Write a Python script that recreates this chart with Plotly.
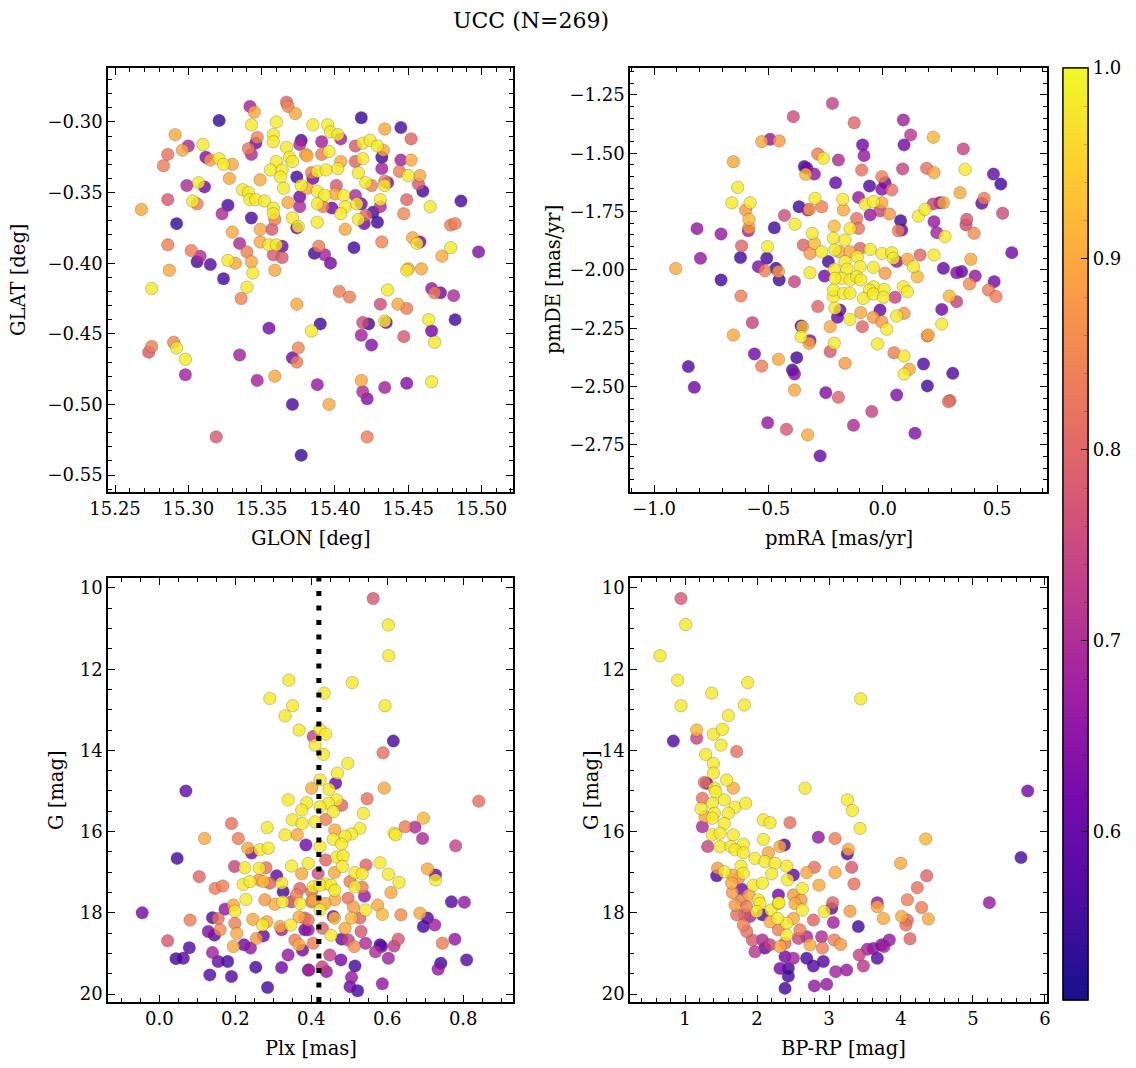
import numpy as np
import plotly.graph_objects as go

W, H = 1136, 1068
FONT = "DejaVu Serif"

# ---------------- data ----------------
# Panel 1: GLON / GLAT
glon = [15.342, 15.345, 15.367, 15.368, 15.373, 15.321, 15.343, 15.360, 15.291, 15.358,
        15.377, 15.376, 15.300, 15.296, 15.310, 15.286, 15.283, 15.347, 15.346, 15.341,
        15.343, 15.312, 15.315, 15.321, 15.324, 15.330, 15.367, 15.358, 15.369, 15.371,
        15.380, 15.360, 15.356, 15.364, 15.328, 15.349, 15.363, 15.374, 15.384, 15.299,
        15.307, 15.311, 15.337, 15.341, 15.286, 15.303, 15.306, 15.268, 15.327, 15.323,
        15.342, 15.346, 15.352, 15.358, 15.358, 15.365, 15.377, 15.376, 15.376, 15.368,
        15.371, 15.375, 15.374, 15.292, 15.343, 15.359, 15.330, 15.349, 15.357, 15.335,
        15.349, 15.355, 15.360, 15.364, 15.286, 15.302, 15.308, 15.306, 15.315, 15.327,
        15.332, 15.340, 15.343, 15.344, 15.358, 15.364, 15.287, 15.324, 15.359, 15.275,
        15.340, 15.336, 15.374, 15.355, 15.384, 15.275, 15.273, 15.290, 15.292, 15.298,
        15.335, 15.375, 15.371, 15.374, 15.298, 15.347, 15.359, 15.371, 15.319, 15.377,
        15.418, 15.445, 15.434, 15.452, 15.385, 15.395, 15.397, 15.402, 15.404, 15.391,
        15.381, 15.391, 15.396, 15.414, 15.419, 15.424, 15.429, 15.433, 15.432, 15.445,
        15.452, 15.414, 15.419, 15.432, 15.444, 15.450, 15.458, 15.457, 15.460, 15.388,
        15.394, 15.402, 15.404, 15.385, 15.416, 15.421, 15.425, 15.434, 15.436, 15.434,
        15.381, 15.388, 15.393, 15.388, 15.392, 15.400, 15.401, 15.406, 15.407, 15.404,
        15.398, 15.414, 15.415, 15.418, 15.431, 15.431, 15.426, 15.421, 15.416, 15.420,
        15.429, 15.449, 15.465, 15.486, 15.447, 15.388, 15.407, 15.432, 15.453, 15.456,
        15.458, 15.479, 15.482, 15.413, 15.389, 15.386, 15.393, 15.397, 15.479, 15.473,
        15.498, 15.450, 15.449, 15.459, 15.403, 15.410, 15.436, 15.466, 15.468, 15.472,
        15.481, 15.431, 15.443, 15.449, 15.390, 15.419, 15.423, 15.435, 15.434, 15.464,
        15.482, 15.418, 15.425, 15.447, 15.466, 15.468, 15.388, 15.418, 15.419, 15.422,
        15.434, 15.449, 15.466, 15.396, 15.422]
glat = [-0.289, -0.293, -0.286, -0.289, -0.294, -0.299, -0.302, -0.300, -0.309, -0.309,
        -0.313, -0.316, -0.317, -0.320, -0.316, -0.323, -0.331, -0.311, -0.315, -0.319,
        -0.323, -0.325, -0.327, -0.326, -0.330, -0.330, -0.318, -0.314, -0.325, -0.328,
        -0.323, -0.328, -0.334, -0.334, -0.340, -0.341, -0.339, -0.339, -0.336, -0.345,
        -0.343, -0.346, -0.348, -0.350, -0.355, -0.356, -0.358, -0.362, -0.359, -0.365,
        -0.355, -0.355, -0.356, -0.361, -0.365, -0.347, -0.345, -0.353, -0.360, -0.357,
        -0.368, -0.374, -0.375, -0.372, -0.368, -0.369, -0.378, -0.376, -0.376, -0.386,
        -0.385, -0.387, -0.387, -0.388, -0.387, -0.391, -0.395, -0.399, -0.401, -0.398,
        -0.400, -0.392, -0.399, -0.407, -0.394, -0.396, -0.405, -0.411, -0.405, -0.418,
        -0.417, -0.425, -0.429, -0.446, -0.448, -0.459, -0.463, -0.456, -0.460, -0.468,
        -0.465, -0.460, -0.467, -0.470, -0.479, -0.483, -0.480, -0.500, -0.523, -0.536,
        -0.297, -0.304, -0.305, -0.312, -0.302, -0.302, -0.307, -0.309, -0.312, -0.314,
        -0.324, -0.323, -0.321, -0.317, -0.315, -0.313, -0.317, -0.320, -0.325, -0.327,
        -0.327, -0.328, -0.326, -0.333, -0.335, -0.338, -0.338, -0.344, -0.349, -0.335,
        -0.334, -0.333, -0.328, -0.340, -0.336, -0.343, -0.345, -0.342, -0.343, -0.345,
        -0.347, -0.349, -0.352, -0.358, -0.360, -0.351, -0.345, -0.352, -0.360, -0.365,
        -0.361, -0.352, -0.358, -0.358, -0.355, -0.360, -0.364, -0.366, -0.369, -0.372,
        -0.371, -0.355, -0.360, -0.356, -0.365, -0.371, -0.376, -0.385, -0.382, -0.386,
        -0.385, -0.373, -0.372, -0.389, -0.388, -0.393, -0.394, -0.400, -0.389, -0.395,
        -0.392, -0.404, -0.405, -0.404, -0.420, -0.424, -0.419, -0.418, -0.421, -0.421,
        -0.423, -0.429, -0.429, -0.432, -0.443, -0.442, -0.443, -0.442, -0.441, -0.440,
        -0.440, -0.451, -0.458, -0.452, -0.448, -0.456, -0.486, -0.483, -0.491, -0.496,
        -0.488, -0.485, -0.484, -0.500, -0.523]
prob1 = [0.68, 0.90, 0.80, 0.85, 0.90, 0.55, 0.98, 0.98, 0.90, 0.98,
         0.57, 0.70, 0.70, 0.90, 0.98, 0.82, 0.84, 0.85, 0.62, 0.83,
         0.70, 0.64, 0.88, 0.98, 0.98, 0.90, 0.98, 0.98, 0.98, 0.98,
         0.90, 0.98, 0.98, 0.98, 0.90, 0.90, 0.98, 0.56, 0.84, 0.70,
         0.98, 0.62, 0.98, 0.98, 0.78, 0.98, 0.84, 0.90, 0.57, 0.70,
         0.98, 0.98, 0.98, 0.98, 0.98, 0.98, 0.98, 0.62, 0.70, 0.90,
         0.98, 0.98, 0.62, 0.55, 0.57, 0.84, 0.90, 0.90, 0.78, 0.70,
         0.90, 0.98, 0.98, 0.62, 0.84, 0.84, 0.70, 0.56, 0.58, 0.98,
         0.90, 0.84, 0.90, 0.98, 0.78, 0.78, 0.90, 0.56, 0.90, 0.98,
         0.98, 0.85, 0.90, 0.62, 0.98, 0.84, 0.78, 0.85, 0.98, 0.98,
         0.68, 0.85, 0.62, 0.84, 0.68, 0.68, 0.90, 0.57, 0.78, 0.55,
         0.55, 0.57, 0.90, 0.80, 0.98, 0.98, 0.98, 0.98, 0.68, 0.68,
         0.90, 0.84, 0.98, 0.78, 0.98, 0.98, 0.98, 0.90, 0.56, 0.68,
         0.90, 0.80, 0.98, 0.68, 0.84, 0.98, 0.90, 0.78, 0.56, 0.98,
         0.98, 0.98, 0.90, 0.62, 0.98, 0.98, 0.84, 0.84, 0.62, 0.98,
         0.90, 0.98, 0.98, 0.98, 0.84, 0.90, 0.78, 0.98, 0.98, 0.98,
         0.62, 0.70, 0.98, 0.62, 0.98, 0.70, 0.56, 0.80, 0.98, 0.62,
         0.56, 0.80, 0.98, 0.56, 0.85, 0.98, 0.90, 0.85, 0.90, 0.98,
         0.62, 0.84, 0.84, 0.56, 0.84, 0.56, 0.68, 0.62, 0.98, 0.90,
         0.64, 0.90, 0.98, 0.90, 0.84, 0.84, 0.98, 0.66, 0.84, 0.62,
         0.70, 0.76, 0.90, 0.84, 0.56, 0.76, 0.56, 0.62, 0.98, 0.98,
         0.56, 0.68, 0.64, 0.78, 0.62, 0.98, 0.66, 0.90, 0.70, 0.64,
         0.68, 0.64, 0.98, 0.90, 0.84]

# Panel 2: pmRA / pmDE
pmra = [-0.220, -0.391, -0.529, -0.493, -0.453, -0.284, -0.260, -0.653, -0.343, -0.332,
        -0.299, -0.337, -0.194, -0.206, -0.634, -0.660, -0.580, -0.599, -0.585, -0.585,
        -0.588, -0.296, -0.267, -0.366, -0.328, -0.321, -0.430, -0.812, -0.707, -0.474,
        -0.384, -0.212, -0.216, -0.308, -0.299, -0.267, -0.347, -0.318, -0.617, -0.504,
        -0.797, -0.622, -0.507, -0.544, -0.515, -0.467, -0.456, -0.453, -0.386, -0.905,
        -0.318, -0.255, -0.238, -0.212, -0.707, -0.620, -0.216, -0.209, -0.284, -0.570,
        -0.653, -0.357, -0.351, -0.357, -0.318, -0.322, -0.230, -0.212, -0.230, -0.561,
        -0.376, -0.456, -0.529, -0.850, -0.395, -0.386, -0.824, -0.386, -0.249, -0.194,
        -0.503, -0.421, -0.328, -0.274,
        -0.125, 0.090, 0.122, 0.221, 0.093, -0.088, -0.082, -0.092, 0.087, 0.192,
        0.224, 0.352, 0.360, 0.484, 0.516, -0.058, -0.004, 0.010, -0.004, 0.039,
        -0.175, -0.172, -0.106, -0.077, -0.041, -0.004, -0.055, -0.012, 0.029, 0.078,
        0.068, 0.083, 0.156, 0.185, 0.221, 0.250, 0.265, 0.224, 0.236, 0.272,
        0.338, 0.433, 0.443, 0.367, 0.364, 0.399, 0.524, 0.564, -0.143, -0.114,
        -0.106, -0.165, -0.209, -0.190, -0.055, -0.099, -0.143, -0.111, -0.099, -0.165,
        -0.157, -0.179, -0.209, -0.143, -0.114, -0.096, -0.216, -0.172, -0.143, -0.187,
        -0.198, -0.143, -0.041, -0.041, -0.058, -0.085, -0.041, 0.006, 0.010, 0.003,
        0.054, -0.004, 0.039, 0.046, 0.061, 0.108, 0.134, 0.151, 0.090, 0.108,
        0.163, 0.224, 0.265, 0.323, 0.345, 0.404, 0.385, 0.379, 0.487, 0.462,
        0.495, 0.291, 0.323, 0.258, 0.258, -0.096, -0.012, -0.041, -0.004, 0.017,
        0.061, 0.093, -0.089, -0.023, 0.199, 0.195, 0.049, 0.093, 0.116, 0.093,
        -0.165, 0.178, 0.195, 0.306, 0.061, 0.287, 0.294, -0.048, -0.128, 0.141]
pmde = [-1.286, -1.343, -1.450, -1.440, -1.447, -1.503, -1.521, -1.536, -1.557, -1.564,
        -1.589, -1.590, -1.529, -1.626, -1.646, -1.712, -1.712, -1.743, -1.783, -1.819,
        -1.832, -1.693, -1.729, -1.729, -1.743, -1.740, -1.766, -1.823, -1.846, -1.819,
        -1.804, -1.812, -1.864, -1.843, -1.886, -1.922, -1.893, -1.929, -1.897, -1.900,
        -1.950, -1.947, -1.950, -1.986, -2.003, -1.993, -2.007, -2.043, -2.050, -1.994,
        -2.012, -2.026, -1.964, -1.997, -2.043, -2.112, -2.114, -2.164, -2.157, -2.226,
        -2.279, -2.240, -2.243, -2.286, -2.303, -2.314, -2.243, -2.314, -2.350, -2.360,
        -2.376, -2.383, -2.412, -2.414, -2.429, -2.446, -2.503, -2.515, -2.526, -2.546,
        -2.655, -2.683, -2.707, -2.797,
        -1.369, -1.357, -1.421, -1.431, -1.464, -1.464, -1.510, -1.572, -1.567, -1.564,
        -1.583, -1.481, -1.569, -1.589, -1.632, -1.640, -1.600, -1.626, -1.654, -1.657,
        -1.697, -1.743, -1.689, -1.717, -1.707, -1.712, -1.764, -1.746, -1.760, -1.789,
        -1.832, -1.829, -1.769, -1.740, -1.717, -1.712, -1.712, -1.793, -1.840, -1.857,
        -1.669, -1.714, -1.693, -1.783, -1.807, -1.843, -1.757, -1.926, -1.822, -1.779,
        -1.822, -1.872, -1.914, -1.922, -1.912, -1.907, -1.922, -1.943, -1.986, -1.964,
        -1.997, -2.036, -2.036, -2.043, -2.029, -2.043, -2.086, -2.100, -2.100, -2.172,
        -2.203, -2.212, -1.989, -2.072, -2.086, -2.122, -2.103, -2.083, -2.014, -2.117,
        -2.117, -1.929, -1.926, -1.950, -1.964, -1.954, -1.986, -2.029, -2.072, -2.093,
        -1.936, -1.936, -1.993, -2.012, -2.007, -2.026, -1.954, -2.060, -2.050, -2.086,
        -2.114, -2.112, -2.136, -2.169, -2.232, -2.183, -2.172, -2.203, -2.222, -2.254,
        -2.197, -2.186, -2.243, -2.317, -2.279, -2.283, -2.355, -2.369, -2.426, -2.446,
        -2.400, -2.403, -2.497, -2.443, -2.536, -2.564, -2.560, -2.607, -2.666, -2.700]
prob2 = [0.74, 0.76, 0.90, 0.66, 0.88, 0.84, 0.98, 0.90, 0.56, 0.62,
         0.66, 0.92, 0.70, 0.60, 0.98, 0.98, 0.98, 0.88, 0.92, 0.88,
         0.68, 0.98, 0.84, 0.56, 0.66, 0.88, 0.76, 0.66, 0.66, 0.56,
         0.98, 0.92, 0.98, 0.98, 0.92, 0.98, 0.80, 0.88, 0.80, 0.98,
         0.66, 0.56, 0.56, 0.64, 0.84, 0.56, 0.88, 0.56, 0.74, 0.90,
         0.98, 0.62, 0.56, 0.98, 0.56, 0.84, 0.98, 0.98, 0.80, 0.74,
         0.90, 0.56, 0.92, 0.98, 0.64, 0.90, 0.90, 0.98, 0.78, 0.62,
         0.56, 0.90, 0.84, 0.58, 0.56, 0.64, 0.62, 0.90, 0.64, 0.80,
         0.66, 0.78, 0.90, 0.60,
         0.80, 0.68, 0.72, 0.92, 0.62, 0.62, 0.66, 0.82, 0.74, 0.82,
         0.90, 0.74, 0.98, 0.60, 0.56, 0.58, 0.84, 0.62, 0.64, 0.82,
         0.98, 0.90, 0.66, 0.98, 0.98, 0.90, 0.66, 0.74, 0.88, 0.56,
         0.84, 0.60, 0.98, 0.98, 0.74, 0.60, 0.90, 0.66, 0.68, 0.98,
         0.90, 0.60, 0.84, 0.78, 0.76, 0.86, 0.76, 0.62, 0.98, 0.82,
         0.82, 0.98, 0.98, 0.90, 0.98, 0.80, 0.90, 0.98, 0.98, 0.98,
         0.98, 0.98, 0.98, 0.98, 0.98, 0.98, 0.98, 0.98, 0.98, 0.60,
         0.60, 0.98, 0.98, 0.98, 0.98, 0.98, 0.98, 0.98, 0.88, 0.98,
         0.74, 0.98, 0.98, 0.98, 0.66, 0.90, 0.98, 0.92, 0.98, 0.98,
         0.80, 0.98, 0.60, 0.64, 0.60, 0.66, 0.90, 0.86, 0.62, 0.84,
         0.84, 0.92, 0.74, 0.62, 0.98, 0.90, 0.60, 0.88, 0.88, 0.98,
         0.98, 0.88, 0.80, 0.98, 0.90, 0.84, 0.84, 0.98, 0.90, 0.98,
         0.88, 0.58, 0.56, 0.58, 0.64, 0.82, 0.80, 0.74, 0.70, 0.64]

# Panel 3: Plx / G
plx = [0.341, 0.291, 0.351, 0.331, 0.368, 0.405, 0.410, 0.070, 0.401, 0.339,
       0.388, 0.375, 0.350, 0.376, 0.410, 0.190, 0.119, 0.284, 0.331, 0.363,
       0.208, 0.233, 0.243, 0.265, 0.287, 0.386, 0.047, 0.198, 0.225, 0.263,
       0.281, 0.348, 0.392, 0.375, 0.105, 0.147, 0.167, 0.221, 0.239, 0.263,
       0.274, 0.291, 0.309, 0.322, 0.326, 0.370, 0.361, 0.405, 0.228, 0.195,
       0.199, 0.173, 0.278, 0.304, 0.325, 0.348, 0.370, 0.405, -0.045, 0.081,
       0.140, 0.155, 0.160, 0.129, 0.145, 0.199, 0.204, 0.246, 0.272, 0.283,
       0.318, 0.346, 0.368, 0.392, 0.022, 0.079, 0.044, 0.063, 0.140, 0.155,
       0.180, 0.133, 0.190, 0.195, 0.223, 0.240, 0.256, 0.274, 0.254, 0.285,
       0.322, 0.383, 0.339, 0.357, 0.368, 0.377, 0.322, 0.392, 0.405,
       0.563, 0.603, 0.604, 0.508, 0.434, 0.594, 0.616, 0.589, 0.423, 0.438,
       0.432, 0.496, 0.469, 0.464, 0.423, 0.447, 0.592, 0.547, 0.467, 0.445,
       0.458, 0.480, 0.423, 0.438, 0.537, 0.528, 0.506, 0.489, 0.462, 0.458,
       0.480, 0.647, 0.673, 0.695, 0.618, 0.622, 0.693, 0.780, 0.841, 0.423,
       0.438, 0.467, 0.484, 0.482, 0.544, 0.581, 0.515, 0.534, 0.461, 0.603,
       0.631, 0.706, 0.727, 0.727, 0.418, 0.438, 0.423, 0.452, 0.462, 0.502,
       0.515, 0.534, 0.540, 0.401, 0.497, 0.462, 0.436, 0.423, 0.401, 0.610,
       0.769, 0.803, 0.575, 0.587, 0.543, 0.511, 0.528, 0.506, 0.458, 0.461,
       0.383, 0.636, 0.686, 0.706, 0.695, 0.725, 0.489, 0.452, 0.429, 0.392,
       0.480, 0.497, 0.513, 0.543, 0.531, 0.581, 0.585, 0.569, 0.603, 0.629,
       0.618, 0.745, 0.778, 0.449, 0.478, 0.394, 0.429, 0.440, 0.515, 0.506,
       0.502, 0.522, 0.587, 0.741, 0.734, 0.809]
g3 = [12.27, 12.72, 12.90, 13.15, 13.50, 13.66, 13.87, 15.00, 14.93, 15.22,
      15.29, 15.47, 15.71, 15.80, 15.76, 15.80, 16.17, 15.90, 16.08, 16.08,
      16.17, 16.41, 16.53, 16.45, 16.41, 16.33, 16.66, 16.86, 16.89, 16.90,
      16.89, 16.85, 16.78, 17.04, 17.11, 17.40, 17.34, 17.30, 17.23, 17.19,
      17.23, 17.27, 17.09, 17.27, 17.48, 17.40, 17.56, 17.36, 17.67, 17.81,
      17.96, 17.91, 17.68, 17.79, 17.73, 17.73, 17.77, 17.69, 18.00, 18.18,
      18.12, 18.14, 18.42, 18.46, 18.55, 18.26, 18.51, 18.16, 18.30, 18.22,
      18.34, 18.30, 18.10, 18.18, 18.69, 18.86, 19.13, 19.12, 18.98, 19.20,
      19.20, 19.53, 19.57, 18.83, 18.79, 18.87, 18.63, 18.57, 19.34, 19.84,
      18.42, 18.42, 19.04, 18.67, 18.79, 18.92, 19.35, 19.41, 18.75,
      10.26, 10.91, 11.67, 12.33, 12.59, 12.90, 13.77, 14.06, 13.48, 13.60,
      14.10, 14.32, 14.56, 14.81, 14.73, 14.96, 14.93, 15.19, 15.22, 15.30,
      15.51, 15.35, 15.39, 15.70, 15.55, 15.92, 16.06, 16.12, 15.96, 16.19,
      16.31, 15.88, 15.89, 15.67, 16.04, 16.08, 16.17, 16.35, 15.25, 16.37,
      16.70, 16.63, 16.60, 16.86, 16.82, 16.77, 17.01, 17.04, 17.01, 17.05,
      17.25, 16.92, 17.07, 17.19, 17.03, 17.29, 17.32, 17.32, 17.45, 17.23,
      17.36, 17.37, 17.59, 17.48, 17.64, 17.68, 17.77, 17.93, 17.73, 17.50,
      17.73, 17.74, 17.81, 18.04, 17.93, 17.86, 18.13, 18.13, 18.09, 18.13,
      18.13, 18.05, 18.01, 18.13, 18.34, 18.30, 18.38, 18.55, 18.38, 18.42,
      18.65, 18.67, 18.83, 18.75, 18.46, 18.79, 18.83, 18.96, 19.12, 18.65,
      18.82, 18.75, 18.65, 19.04, 19.16, 19.41, 19.33, 19.45, 19.31, 19.59,
      19.82, 19.92, 19.75, 19.24, 19.39, 19.16]
prob3 = [0.98, 0.98, 0.98, 0.98, 0.98, 0.74, 0.98, 0.60, 0.90, 0.98,
         0.98, 0.98, 0.98, 0.98, 0.98, 0.82, 0.90, 0.98, 0.98, 0.90,
         0.84, 0.90, 0.62, 0.98, 0.98, 0.62, 0.56, 0.74, 0.98, 0.98,
         0.82, 0.98, 0.98, 0.90, 0.80, 0.84, 0.84, 0.98, 0.98, 0.88,
         0.92, 0.80, 0.60, 0.98, 0.56, 0.80, 0.84, 0.98, 0.98, 0.90,
         0.98, 0.66, 0.88, 0.90, 0.98, 0.74, 0.98, 0.90, 0.62, 0.84,
         0.58, 0.82, 0.86, 0.64, 0.58, 0.84, 0.90, 0.90, 0.98, 0.90,
         0.90, 0.98, 0.90, 0.82, 0.78, 0.58, 0.56, 0.58, 0.68, 0.60,
         0.56, 0.58, 0.58, 0.90, 0.62, 0.66, 0.88, 0.60, 0.56, 0.56,
         0.68, 0.62, 0.66, 0.84, 0.90, 0.62, 0.62, 0.68, 0.84,
         0.78, 0.98, 0.98, 0.98, 0.98, 0.98, 0.56, 0.82, 0.98, 0.98,
         0.98, 0.98, 0.98, 0.60, 0.98, 0.98, 0.90, 0.82, 0.98, 0.98,
         0.98, 0.80, 0.98, 0.84, 0.98, 0.98, 0.98, 0.98, 0.90, 0.98,
         0.98, 0.84, 0.70, 0.92, 0.98, 0.98, 0.70, 0.74, 0.82, 0.98,
         0.80, 0.98, 0.98, 0.98, 0.80, 0.98, 0.98, 0.98, 0.90, 0.98,
         0.98, 0.90, 0.60, 0.98, 0.76, 0.98, 0.98, 0.98, 0.98, 0.84,
         0.98, 0.84, 0.66, 0.82, 0.82, 0.90, 0.90, 0.98, 0.84, 0.90,
         0.58, 0.66, 0.90, 0.92, 0.98, 0.88, 0.80, 0.92, 0.62, 0.92,
         0.80, 0.86, 0.90, 0.58, 0.56, 0.68, 0.90, 0.98, 0.80, 0.66,
         0.60, 0.74, 0.86, 0.70, 0.78, 0.56, 0.60, 0.70, 0.68, 0.78,
         0.72, 0.84, 0.66, 0.74, 0.62, 0.68, 0.74, 0.66, 0.56, 0.66,
         0.62, 0.56, 0.66, 0.56, 0.66, 0.58]
plx_line = 0.42

# Panel 4: BP-RP / G
bprp = [0.944, 1.009, 0.653, 0.898, 1.370, 1.871, 0.944, 1.824, 1.602, 1.162,
        1.162, 0.838, 1.394, 1.519, 1.500, 1.718, 1.287, 1.394, 1.394, 1.579,
        1.671, 1.269, 1.301, 1.408, 1.426, 1.241, 1.222, 1.380, 1.546, 1.695,
        1.843, 1.408, 1.602, 1.278, 1.380, 2.667, 2.088, 2.181, 2.458, 1.241,
        1.315, 1.380, 1.546, 1.486, 1.671, 1.486, 1.639, 1.810, 1.695, 1.810,
        2.380, 2.320, 2.088, 2.852, 3.084, 1.972, 2.111, 2.250, 2.158, 2.412,
        2.505, 2.690, 2.797, 3.084, 2.861, 1.440, 1.454, 1.546, 1.778, 1.810,
        1.658, 1.741, 1.949, 2.074, 2.204, 2.426, 2.630, 1.648, 1.658, 1.787,
        1.787, 1.889, 2.019, 2.042, 1.996, 1.857, 1.695, 1.718, 1.824, 1.903,
        2.074, 2.195, 2.297, 2.181, 2.297, 2.306, 2.505, 2.528, 2.611, 2.630,
        2.505, 2.412, 2.287, 2.412, 1.810, 1.857, 1.935, 1.972, 2.074, 2.111,
        2.181, 2.297, 2.320, 2.389, 2.574, 2.597, 2.783, 2.935, 3.060, 3.074,
        2.690, 2.736, 2.898, 2.908, 2.389, 2.505, 2.320, 2.435, 2.435, 2.389,
        2.690, 2.783, 2.921, 3.093, 2.797, 2.968,
        3.440, 5.760, 3.255, 3.324, 3.431, 4.343, 3.269, 3.255, 3.315, 3.347,
        3.995, 5.667, 3.051, 3.037, 3.292, 3.671, 3.671, 3.755, 4.357, 4.227,
        4.088, 4.287, 4.009, 4.088, 4.069, 4.380, 4.125, 5.227, 3.407, 3.162,
        3.421, 3.477, 3.532, 3.616, 3.671, 3.732, 3.764, 3.838, 3.245]
g4 = [10.26, 10.90, 11.67, 12.27, 12.59, 12.33, 12.90, 12.88, 13.14, 13.50,
      13.70, 13.77, 13.60, 13.48, 13.87, 14.03, 14.10, 14.32, 14.56, 14.73,
      14.93, 14.79, 14.81, 14.93, 15.02, 15.18, 15.44, 15.30, 15.22, 15.40,
      15.30, 15.55, 15.55, 15.63, 15.67, 14.93, 15.71, 15.78, 15.78, 15.88,
      16.37, 16.08, 15.80, 16.04, 16.08, 16.37, 16.37, 16.31, 16.45, 16.52,
      16.33, 16.37, 16.19, 16.14, 16.17, 16.66, 16.74, 16.78, 16.52, 16.85,
      17.07, 17.01, 16.88, 17.01, 17.32, 17.09, 16.90, 16.99, 16.85, 17.03,
      17.07, 17.15, 17.32, 17.27, 17.04, 17.19, 17.40, 17.27, 17.50, 17.42,
      17.68, 17.56, 17.68, 17.77, 17.97, 17.85, 17.81, 18.05, 18.05, 18.09,
      18.05, 17.93, 17.77, 18.22, 17.56, 17.75, 17.56, 17.77, 17.68, 17.93,
      18.14, 18.26, 18.14, 18.55, 18.30, 18.46, 18.67, 18.96, 18.67, 18.87,
      18.79, 18.42, 18.83, 18.75, 18.63, 18.42, 18.18, 17.97, 18.24, 18.67,
      18.59, 18.79, 18.59, 18.87, 19.08, 19.12, 19.37, 19.37, 19.56, 19.86,
      19.12, 19.31, 19.20, 19.45, 19.80, 19.76,
      12.73, 15.00, 15.22, 15.48, 15.92, 16.18, 16.44, 16.55, 16.88, 17.29,
      16.78, 16.64, 17.75, 17.89, 17.96, 17.75, 17.85, 18.14, 17.09, 17.38,
      17.68, 17.87, 18.09, 18.18, 18.30, 18.15, 18.64, 17.75, 18.34, 18.78,
      19.04, 19.31, 18.90, 18.88, 19.12, 18.79, 18.83, 18.67, 19.41]
prob4 = [0.78, 0.98, 0.98, 0.98, 0.98, 0.98, 0.98, 0.98, 0.98, 0.92,
         0.74, 0.58, 0.98, 0.98, 0.98, 0.82, 0.98, 0.98, 0.98, 0.98,
         0.90, 0.82, 0.60, 0.98, 0.98, 0.82, 0.98, 0.98, 0.98, 0.98,
         0.98, 0.98, 0.98, 0.90, 0.98, 0.98, 0.98, 0.98, 0.82, 0.70,
         0.74, 0.98, 0.98, 0.98, 0.98, 0.98, 0.98, 0.98, 0.98, 0.98,
         0.56, 0.90, 0.98, 0.66, 0.84, 0.98, 0.98, 0.98, 0.90, 0.98,
         0.60, 0.90, 0.82, 0.90, 0.90, 0.58, 0.88, 0.98, 0.98, 0.98,
         0.90, 0.86, 0.98, 0.98, 0.98, 0.98, 0.98, 0.90, 0.88, 0.62,
         0.84, 0.90, 0.98, 0.98, 0.98, 0.84, 0.88, 0.82, 0.78, 0.70,
         0.58, 0.98, 0.98, 0.90, 0.62, 0.98, 0.88, 0.90, 0.88, 0.98,
         0.90, 0.98, 0.98, 0.98, 0.84, 0.82, 0.78, 0.72, 0.70, 0.60,
         0.74, 0.84, 0.90, 0.82, 0.74, 0.84, 0.80, 0.98, 0.68, 0.84,
         0.70, 0.90, 0.70, 0.84, 0.62, 0.68, 0.62, 0.56, 0.56, 0.56,
         0.56, 0.58, 0.58, 0.68, 0.66, 0.66,
         0.98, 0.62, 0.98, 0.98, 0.98, 0.92, 0.90, 0.58, 0.78, 0.82,
         0.90, 0.56, 0.80, 0.60, 0.88, 0.66, 0.90, 0.90, 0.80, 0.82,
         0.84, 0.84, 0.90, 0.82, 0.82, 0.90, 0.80, 0.66, 0.56, 0.88,
         0.74, 0.72, 0.68, 0.64, 0.58, 0.64, 0.68, 0.66, 0.66]

prob_min, prob_max = 0.512, 1.0
title_text = "UCC (N=269)"

# ---------------- styling helpers ----------------
def hx(px):
    return px / W

def hy(py):
    return 1 - py / H

plasma = ['#0d0887', '#46039f', '#7201a8', '#9c179e', '#bd3786',
          '#d8576b', '#ed7953', '#fb9f3a', '#fdca26', '#f0f921']

def rgba(h, a):
    h = h.lstrip('#')
    return f"rgba({int(h[0:2],16)},{int(h[2:4],16)},{int(h[4:6],16)},{a})"

cscale = [[i / (len(plasma) - 1), rgba(c, 0.8)] for i, c in enumerate(plasma)]

fig = go.Figure()

def add_panel(x, y, c, xa, ya, cax):
    x = np.asarray(x); y = np.asarray(y); c = np.asarray(c)
    o = np.argsort(c, kind="stable")
    fig.add_trace(go.Scatter(
        x=x[o], y=y[o], mode="markers", xaxis=xa, yaxis=ya,
        marker=dict(color=c[o], coloraxis=cax, size=12.5,
                    line=dict(color="rgba(60,60,60,0.45)", width=0.6)),
        showlegend=False, hoverinfo="skip"))

add_panel(glon, glat, prob1, "x", "y", "coloraxis")
add_panel(pmra, pmde, prob2, "x2", "y2", "coloraxis")
add_panel(plx, g3, prob3, "x3", "y3", "coloraxis2")
add_panel(bprp, g4, prob4, "x4", "y4", "coloraxis2")

TICKSIZE = 18

def ax(domain, rng, dtick, tick0, minor_dtick, fmt, anchor, **kw):
    d = dict(domain=domain, range=rng, anchor=anchor, dtick=dtick, tick0=tick0,
             tickformat=fmt, showline=True, linecolor="black", linewidth=1.6,
             mirror=True, ticks="inside", ticklen=7, tickwidth=1.3,
             tickcolor="black", showgrid=False, zeroline=False,
             tickfont=dict(family=FONT, size=TICKSIZE, color="black"),
             automargin=False,
             minor=dict(ticks="inside", ticklen=4, tickwidth=1.1,
                        tickcolor="black", dtick=minor_dtick, showgrid=False))
    d.update(kw)
    return d

xd_left = [hx(108), hx(513)]
xd_right = [hx(630), hx(1047)]
yd_top = [hy(492), hy(68)]
yd_bot = [hy(1002), hy(578)]

panels = [
    # (x-domain, y-domain, xrange, xdtick, xtick0, xminor, xfmt, yrange, ydtick, ytick0, yminor, yfmt)
    (xd_left, yd_top, [15.2452, 15.5215], 0.05, 15.25, 0.01, ".2f",
     [-0.5620, -0.2618], 0.05, -0.30, 0.01, ".2f"),
    (xd_right, yd_top, [-1.105, 0.718], 0.5, 0.0, 0.1, ".1f",
     [-2.9517, -1.1343], 0.25, -2.0, 0.05, ".2f"),
    (xd_left, yd_bot, [-0.135, 0.931], 0.2, 0.0, 0.05, ".1f",
     [20.197, 9.754], 2, 10, 0.5, "d"),
    (xd_right, yd_bot, [0.236, 6.028], 1, 0, 0.2, "d",
     [20.197, 9.754], 2, 10, 0.5, "d"),
]

layout = dict(
    width=W, height=H, margin=dict(l=0, r=0, t=0, b=0),
    paper_bgcolor="white", plot_bgcolor="white",
    font=dict(family=FONT, color="black", size=TICKSIZE),
)
for i, (xd, yd, xr, xdt, xt0, xmn, xf, yr, ydt, yt0, ymn, yf) in enumerate(panels):
    n = i + 1
    sx = "" if n == 1 else str(n)
    layout["xaxis" + sx] = ax(xd, xr, xdt, xt0, xmn, xf, "y" + sx)
    layout["yaxis" + sx] = ax(yd, yr, ydt, yt0, ymn, yf, "x" + sx)
    # mirrored tick axes (top / right), without labels
    mx = 4 + n
    layout[f"xaxis{mx}"] = ax(xd, xr, xdt, xt0, xmn, xf, "y" + sx,
                              overlaying="x" + sx, side="top",
                              showticklabels=False, showline=False)
    layout[f"yaxis{mx}"] = ax(yd, yr, ydt, yt0, ymn, yf, "x" + sx,
                              overlaying="y" + sx, side="right",
                              showticklabels=False, showline=False)

cb_common = dict(x=hx(1063), xanchor="left", y=hy(68), yanchor="top",
                 len=(1000 - 68) / H, lenmode="fraction", thickness=25,
                 thicknessmode="pixels", outlinewidth=1.2, outlinecolor="black",
                 xpad=0, ypad=0, tickcolor="black")
layout["coloraxis"] = dict(colorscale=cscale, cmin=prob_min, cmax=prob_max,
                           colorbar=dict(**cb_common, ticks="inside", ticklen=4,
                                         tickwidth=1.1, dtick=0.02, tick0=0.5,
                                         showticklabels=False))
layout["coloraxis2"] = dict(colorscale=cscale, cmin=prob_min, cmax=prob_max,
                            colorbar=dict(**cb_common, ticks="inside", ticklen=7,
                                          tickwidth=1.3, dtick=0.1, tick0=0.6,
                                          tickformat=".1f",
                                          tickfont=dict(family=FONT, size=TICKSIZE,
                                                        color="black")))
fig.update_layout(**layout)

# invisible anchors so the mirrored-tick axes get drawn
for n in range(1, 5):
    xr = panels[n - 1][2]; yr = panels[n - 1][7]
    fig.add_trace(go.Scatter(x=[xr[0]], y=[yr[0]], mode="markers",
                             marker=dict(opacity=0, size=1),
                             xaxis=f"x{4+n}", yaxis=f"y{4+n}",
                             showlegend=False, hoverinfo="skip"))

# dotted vertical line in the Plx panel
fig.add_shape(type="line", xref="x3", yref="y3 domain", x0=plx_line, x1=plx_line,
              y0=0, y1=1, line=dict(color="black", width=5, dash="5px,9.5px"),
              layer="above")

lab = dict(family=FONT, size=19.5, color="black")
annos = [
    (title_text, 531, 20, 0, dict(family=FONT, size=22, color="black")),
    ("GLON [deg]", 311, 538, 0, lab),
    ("pmRA [mas/yr]", 839, 538, 0, lab),
    ("Plx [mas]", 311, 1048, 0, lab),
    ("BP-RP [mag]", 843, 1048, 0, lab),
    ("GLAT [deg]", 18, 280, -90, lab),
    ("pmDE [mas/yr]", 553, 280, -90, lab),
    ("G [mag]", 56, 790, -90, lab),
    ("G [mag]", 591, 790, -90, lab),
]
for t, px_, py_, ang, f in annos:
    fig.add_annotation(text=t, x=hx(px_), y=hy(py_), xref="paper", yref="paper",
                       showarrow=False, textangle=ang, font=f,
                       xanchor="center", yanchor="middle")

fig.write_html("out.html", config={"displayModeBar": False},
               post_script="document.body.style.margin='0';document.body.style.padding='0';")
